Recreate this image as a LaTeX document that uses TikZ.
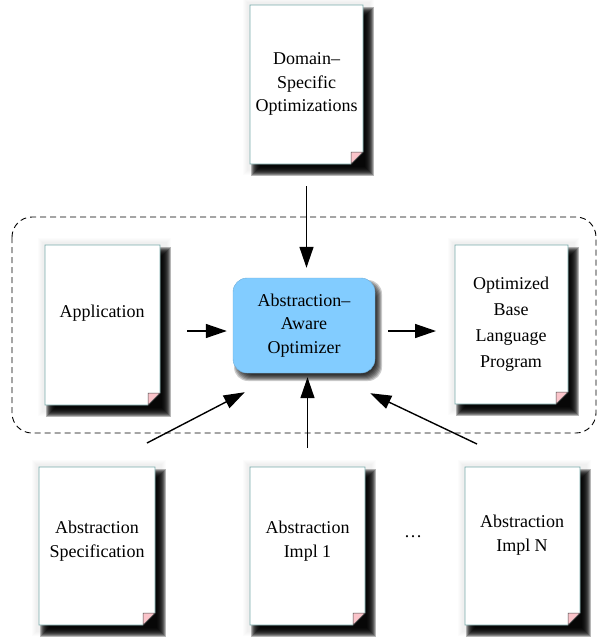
\documentclass[tikz,border=0pt]{standalone}
\usepackage{fontspec}
\setmainfont{Liberation Serif}
\usetikzlibrary{arrows.meta,calc}
\definecolor{optfill}{RGB}{130,204,255}
\definecolor{pageedge}{RGB}{120,170,170}
\definecolor{flapfill}{RGB}{250,196,202}
\tikzset{
  docbox/.style={inner sep=0pt, outer sep=0pt, rectangle},
  doctext/.style={align=center, inner sep=0pt, font=\fontsize{18}{23.5}\selectfont},
  arr/.style={line width=1.4pt, -{Triangle[length=21pt,width=14pt]}},
  dashedbox/.style={draw=black, line width=0.9pt, dash pattern=on 6pt off 4pt, rounded corners=20pt},
  optbox/.style={rectangle, rounded corners=14pt, fill=optfill, draw=optfill!85!black, line width=0.4pt,
    minimum width=142pt, minimum height=95pt, inner sep=0pt, align=center, font=\fontsize{18}{23.5}\selectfont},
}
% #1 name, #2 x1, #3 y1, #4 x2, #5 y2
\newcommand\docpage[5]{%
  \foreach \e in {9,8,7,6,5}{\fill[black,opacity=0.01] (#2-\e+2,#3-\e+2) rectangle (#4+\e+2,#5+\e+2);}
  \foreach \e in {5,4,3,2,1,0,-1,-2,-3,-4}{\fill[black,opacity=0.28] (#2+6-\e,#3+7-\e) rectangle (#4+6+\e,#5+7+\e);}
  \filldraw[fill=white,draw=pageedge,line width=0.6pt] (#2,#3) -- (#4,#3) -- (#4,#5-12) -- (#4-12,#5) -- (#2,#5) -- cycle;
  \filldraw[fill=flapfill,draw=black!70,line width=0.5pt] (#4,#5-12) -- (#4-12,#5) -- (#4-12,#5-12) -- cycle;
  \node[docbox, minimum width={(#4-#2)*1pt}, minimum height={(#5-#3)*1pt}] (#1) at ({(#2+#4)/2},{(#3+#5)/2}) {};
}
\begin{document}
\begin{tikzpicture}[x=1pt,y=-1pt]
\useasboundingbox (0,0) rectangle (598,638);
\fill[white] (0,0) rectangle (598,638);

% dashed group
\draw[dashedbox] (12,217) rectangle (596,433);

% documents
\docpage{dso}{250}{5}{363}{164}
\docpage{app}{45}{245}{160}{405}
\docpage{obl}{455}{245}{568}{404}
\docpage{spec}{39}{467}{155}{625}
\docpage{impl1}{250}{467}{365}{625}
\docpage{impln}{465}{467}{580}{625}

\node[doctext] (dso-t) at (306.5,84) {Domain–\\Specific\\Optimizations};
\node[doctext] (app-t) at (102,313) {Application};
\node[doctext, font=\fontsize{18}{26}\selectfont] (obl-t) at (511,324) {Optimized\\Base\\Language\\Program};
\node[doctext] (spec-t) at (97,541) {Abstraction\\Specification};
\node[doctext] (impl1-t) at (307.5,541) {Abstraction\\Impl 1};
\node[doctext] (impln-t) at (522,535) {Abstraction\\Impl N};
\node[doctext] (dots) at (413,537) {\ldots};

% optimizer with shadow
\foreach \e in {3,2,1,0,-1,-2,-3}{\fill[black,opacity=0.2,rounded corners=14pt] (233+4-\e,278+5-\e) rectangle (375+4+\e,373+5+\e);}
\node[optbox] (opt) at (304,325.5) {Abstraction–\\Aware\\Optimizer};

% connectors
\draw[arr] ($(dso.south)+(0,22)$) -- ($(dso.south |- opt.north)+(0,-10)$);
\draw[arr] ($(app.east)+(27,6)$) -- ($(app.east -| opt.west)+(-6,6)$);
\draw[arr] ($(opt.east)+(13,5.5)$) -- ($(opt.east -| obl.west)+(-19,5.5)$);
\draw[arr] ($(spec.north east)+(-8,-24)$) -- ($(opt.south west)+(12,19)$);
\draw[arr] ($(impl1.north)+(0,-19)$) -- ($(impl1.north |- opt.south)+(0,4)$);
\draw[arr] ($(impln.north west)+(12,-23)$) -- ($(opt.south east)+(-5,20)$);
\end{tikzpicture}
\end{document}
